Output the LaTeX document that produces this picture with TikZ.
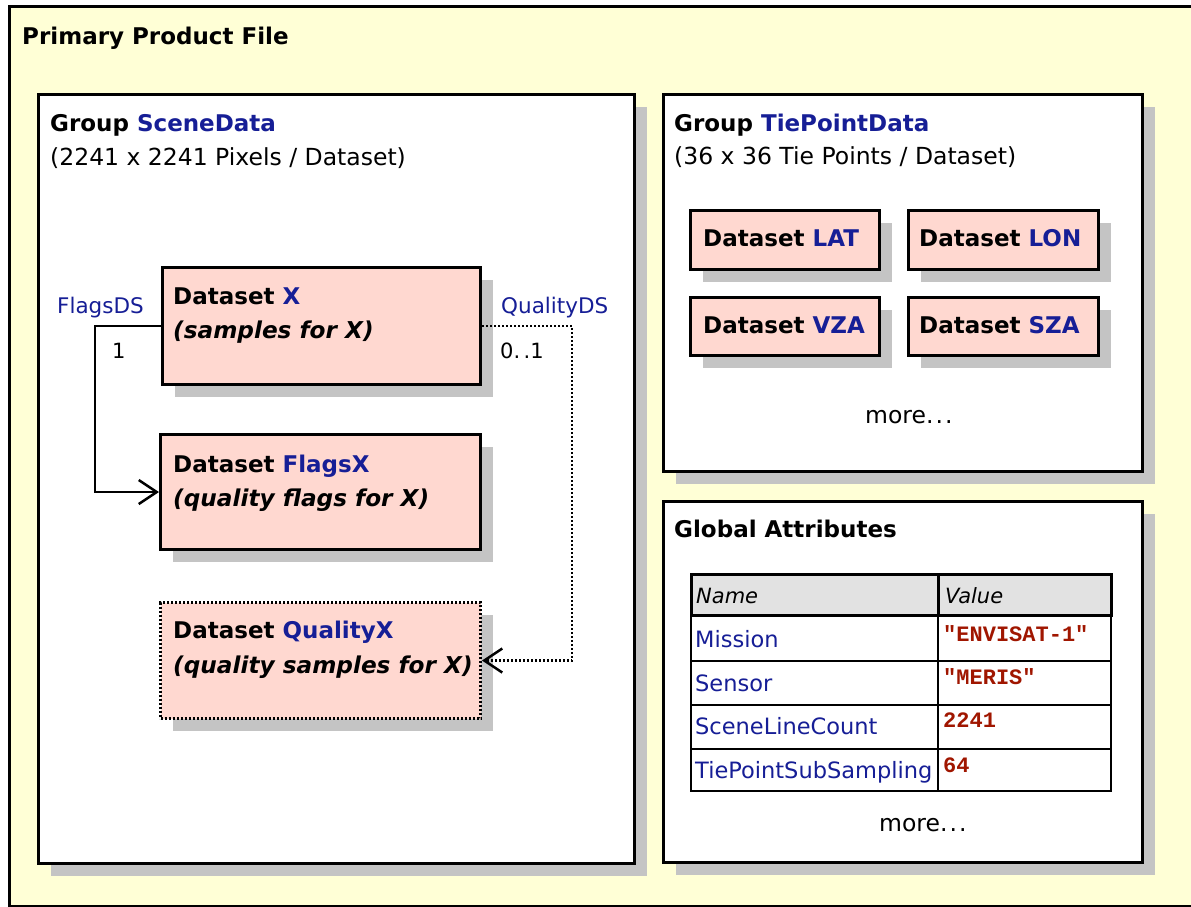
\documentclass[tikz,border=0pt]{standalone}
\usepackage{fontspec}
\setmainfont{DejaVu Sans}
\setmonofont{Liberation Mono}
\usetikzlibrary{arrows.meta,shadows}
\definecolor{bgyellow}{RGB}{255,255,214}
\definecolor{dspink}{RGB}{255,216,208}
\definecolor{shgray}{RGB}{196,196,196}
\definecolor{hdrgray}{RGB}{226,226,226}
\definecolor{txtblue}{RGB}{22,30,150}
\definecolor{valred}{RGB}{160,22,0}
\begin{document}
\begin{tikzpicture}[x=1pt,y=-1pt,
  outerframe/.style={draw=black, line width=3pt, fill=bgyellow, inner sep=0, anchor=north west},
  groupbox/.style={draw=black, line width=3pt, fill=white, inner sep=0, anchor=north west,
    drop shadow={shadow xshift=12pt, shadow yshift=-12pt, fill=shgray, opacity=1}},
  dsbox/.style={draw=black, line width=3pt, fill=dspink, inner sep=0, anchor=north west,
    drop shadow={shadow xshift=12pt, shadow yshift=-12pt, fill=shgray, opacity=1}},
  optbox/.style={dsbox, dash pattern=on 2pt off 2pt},
  txt/.style={anchor=base west, inner sep=0, font=\fontsize{23.5}{27}\selectfont},
  btxt/.style={txt, font=\fontsize{23}{27}\selectfont\bfseries},
  bitxt/.style={txt, font=\fontsize{23.2}{27}\selectfont\bfseries\itshape},
  lbl/.style={txt, font=\fontsize{21.5}{25}\selectfont, text=txtblue},
  hcell/.style={draw=black, line width=3pt, fill=hdrgray, inner sep=0, anchor=north west},
  cell/.style={draw=black, line width=1.5pt, fill=white, inner sep=0, anchor=north west},
  nametxt/.style={txt, font=\fontsize{22.5}{26}\selectfont, text=txtblue},
  valtxt/.style={txt, font=\fontsize{22}{26}\selectfont\ttfamily\bfseries, text=valred},
  flagline/.style={draw=black, line width=2.5pt, -{Straight Barb[length=18pt,width=24pt,line width=2.5pt]}},
  qualline/.style={draw=black, line width=2.5pt, dash pattern=on 2pt off 2pt,
    -{Straight Barb[length=18pt,width=24pt,line width=2.5pt]}}
]
\useasboundingbox (0,0) rectangle (1191,906);
\fill[white] (0,0) rectangle (1191,906);

% outer file frame
\node[outerframe, minimum width=1200pt, minimum height=900pt] (file) at (8,5) {};
\node[btxt] (filetitle) at (22,44) {Primary Product File};

% group boxes
\node[groupbox, minimum width=596pt, minimum height=769pt] (scene) at (37,93) {};
\node[groupbox, minimum width=479pt, minimum height=377pt] (tie) at (662,93) {};
\node[groupbox, minimum width=479pt, minimum height=361pt] (glob) at (662,500) {};

\node[btxt] (scenetitle) at (50,131) {Group \textcolor{txtblue}{SceneData}};
\node[txt] (scenesub) at (50,165) {(2241 x 2241 Pixels / Dataset)};

\node[btxt] (tietitle) at (674,131) {Group \textcolor{txtblue}{TiePointData}};
\node[txt] (tiesub) at (674,164) {(36 x 36 Tie Points / Dataset)};

\node[btxt] (globtitle) at (674,537) {Global Attributes};

% scene datasets
\node[dsbox, minimum width=318pt, minimum height=117pt] (dsx) at (161,266) {};
\node[btxt] (dsxa) at (173,304) {Dataset \textcolor{txtblue}{X}};
\node[bitxt] (dsxb) at (173,338) {(samples for X)};

\node[dsbox, minimum width=320pt, minimum height=115pt] (dsflags) at (159,433) {};
\node[btxt] (dsflagsa) at (173,472) {Dataset \textcolor{txtblue}{FlagsX}};
\node[bitxt] (dsflagsb) at (173,506) {(quality flags for X)};

\node[optbox, minimum width=320pt, minimum height=116pt] (dsq) at (159,601) {};
\node[btxt] (dsqa) at (173,638) {Dataset \textcolor{txtblue}{QualityX}};
\node[bitxt] (dsqb) at (173,673) {(quality samples for X)};

% connectors
\draw[flagline] (dsx.west) -- ++(-66,0) coordinate (fcorner) |- (dsflags.west);
\draw[qualline] (dsx.east) -- ++(90,0) coordinate (qcorner) |- (dsq.east);
\node[lbl] (flagsds) at (57,313) {FlagsDS};
\node[txt, font=\fontsize{21}{25}\selectfont] (one) at (112,358) {1};
\node[lbl] (qualds) at (501,313) {QualityDS};
\node[txt, font=\fontsize{21}{25}\selectfont] (zeroone) at (500,358) {0.\,.1};

% tie point datasets
\node[dsbox, minimum width=189pt, minimum height=59pt] (lat) at (689,209) {};
\node[btxt] (latt) at (703,246) {Dataset \textcolor{txtblue}{LAT}};
\node[dsbox, minimum width=190pt, minimum height=59pt] (lon) at (907,209) {};
\node[btxt] (lont) at (919,246) {Dataset \textcolor{txtblue}{LON}};
\node[dsbox, minimum width=189pt, minimum height=58pt] (vza) at (689,296) {};
\node[btxt] (vzat) at (703,333) {Dataset \textcolor{txtblue}{VZA}};
\node[dsbox, minimum width=190pt, minimum height=58pt] (sza) at (907,296) {};
\node[btxt] (szat) at (919,333) {Dataset \textcolor{txtblue}{SZA}};
\node[txt] (tiemore) at (865,423) {more.\kern2pt.\kern2pt.};

% attribute table
\node[cell, minimum width=247pt, minimum height=46pt] (c1n) at (690,614) {};
\node[cell, minimum width=173pt, minimum height=46pt] (c1v) at (937,614) {};
\node[cell, minimum width=247pt, minimum height=44pt] (c2n) at (690,660) {};
\node[cell, minimum width=173pt, minimum height=44pt] (c2v) at (937,660) {};
\node[cell, minimum width=247pt, minimum height=44pt] (c3n) at (690,704) {};
\node[cell, minimum width=173pt, minimum height=44pt] (c3v) at (937,704) {};
\node[cell, minimum width=247pt, minimum height=42pt] (c4n) at (690,748) {};
\node[cell, minimum width=173pt, minimum height=42pt] (c4v) at (937,748) {};
\node[hcell, minimum width=247pt, minimum height=41pt] (hn) at (690,573) {};
\node[hcell, minimum width=173pt, minimum height=41pt] (hv) at (937,573) {};

\node[txt, font=\fontsize{21}{25}\selectfont\itshape] (hnt) at (696,603) {Name};
\node[txt, font=\fontsize{21}{25}\selectfont\itshape] (hvt) at (945,603) {Value};
\node[nametxt] (n1) at (695,647) {Mission};
\node[nametxt] (n2) at (695,691) {Sensor};
\node[nametxt] (n3) at (695,734) {SceneLineCount};
\node[nametxt] (n4) at (695,778) {TiePointSubSampling};
\node[valtxt] (v1) at (943,641) {"ENVISAT-1"};
\node[valtxt] (v2) at (943,684) {"MERIS"};
\node[valtxt] (v3) at (943,727) {2241};
\node[valtxt] (v4) at (943,772) {64};
\node[txt] (globmore) at (879,831) {more.\kern2pt.\kern2pt.};
\end{tikzpicture}
\end{document}
